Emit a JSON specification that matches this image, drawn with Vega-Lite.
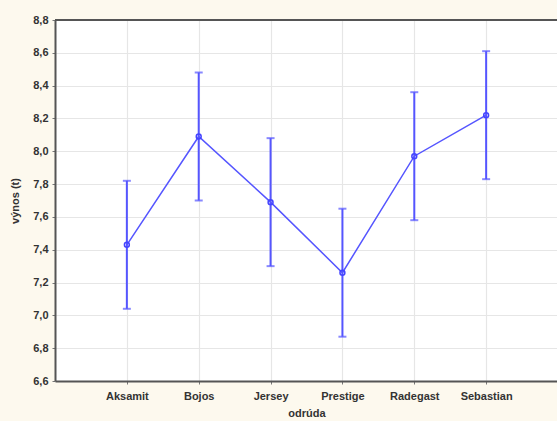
{
  "$schema": "https://vega.github.io/schema/vega-lite/v6.json",
  "autosize": "none",
  "padding": {"left": 55, "top": 20, "right": 0, "bottom": 40},
  "width": 503,
  "height": 361,
  "background": "#fdf9ee",
  "config": {
    "view": {"fill": "white", "stroke": null},
    "font": "Liberation Sans",
    "axis": {
      "labelFont": "Liberation Sans",
      "titleFont": "Liberation Sans",
      "labelFontWeight": "bold",
      "titleFontWeight": "bold",
      "labelColor": "#333333",
      "titleColor": "#333333",
      "labelFontSize": 11,
      "titleFontSize": 11,
      "domainColor": "#555555",
      "domainWidth": 2,
      "tickColor": "#777777",
      "tickSize": 3,
      "gridColor": "#e6e6e6",
      "gridWidth": 1.2
    }
  },
  "data": {
    "values": [
      {"odruda": "Aksamit", "mean": 7.43, "lower": 7.04, "upper": 7.82},
      {"odruda": "Bojos", "mean": 8.09, "lower": 7.70, "upper": 8.48},
      {"odruda": "Jersey", "mean": 7.69, "lower": 7.30, "upper": 8.08},
      {"odruda": "Prestige", "mean": 7.26, "lower": 6.87, "upper": 7.65},
      {"odruda": "Radegast", "mean": 7.97, "lower": 7.58, "upper": 8.36},
      {"odruda": "Sebastian", "mean": 8.22, "lower": 7.83, "upper": 8.61}
    ]
  },
  "layer": [
    {
      "mark": {"type": "rule", "strokeWidth": 2, "color": "#5555ff"},
      "encoding": {
        "x": {"field": "odruda", "type": "nominal", "sort": null, "scale": {"type": "point", "padding": 1},
          "axis": {"title": "odrúda", "labelAngle": 0, "labelPadding": 6, "titlePadding": 6, "grid": true}},
        "y": {"field": "lower", "type": "quantitative", "scale": {"domain": [6.6, 8.8], "nice": false, "zero": false},
          "axis": {"title": "výnos (t)", "values": [6.6, 6.8, 7.0, 7.2, 7.4, 7.6, 7.8, 8.0, 8.2, 8.4, 8.6, 8.8], "labelExpr": "replace(format(datum.value, '.1f'), '.', ',')", "labelOverlap": false, "titlePadding": 12, "labelPadding": 4}},
        "y2": {"field": "upper"}
      }
    },
    {
      "mark": {"type": "tick", "size": 8, "thickness": 2, "color": "#5555ff"},
      "encoding": {
        "x": {"field": "odruda", "type": "nominal", "sort": null, "scale": {"type": "point", "padding": 1},
          "axis": {"title": "odrúda", "labelAngle": 0, "labelPadding": 6, "titlePadding": 6, "grid": true}},
        "y": {"field": "lower", "type": "quantitative", "scale": {"domain": [6.6, 8.8], "nice": false, "zero": false},
          "axis": {"title": "výnos (t)", "values": [6.6, 6.8, 7.0, 7.2, 7.4, 7.6, 7.8, 8.0, 8.2, 8.4, 8.6, 8.8], "labelExpr": "replace(format(datum.value, '.1f'), '.', ',')", "labelOverlap": false, "titlePadding": 12, "labelPadding": 4}}
      }
    },
    {
      "mark": {"type": "tick", "size": 8, "thickness": 2, "color": "#5555ff"},
      "encoding": {
        "x": {"field": "odruda", "type": "nominal", "sort": null, "scale": {"type": "point", "padding": 1},
          "axis": {"title": "odrúda", "labelAngle": 0, "labelPadding": 6, "titlePadding": 6, "grid": true}},
        "y": {"field": "upper", "type": "quantitative", "scale": {"domain": [6.6, 8.8], "nice": false, "zero": false},
          "axis": {"title": "výnos (t)", "values": [6.6, 6.8, 7.0, 7.2, 7.4, 7.6, 7.8, 8.0, 8.2, 8.4, 8.6, 8.8], "labelExpr": "replace(format(datum.value, '.1f'), '.', ',')", "labelOverlap": false, "titlePadding": 12, "labelPadding": 4}}
      }
    },
    {
      "mark": {"type": "line", "strokeWidth": 1.5, "color": "#5555ff"},
      "encoding": {
        "x": {"field": "odruda", "type": "nominal", "sort": null, "scale": {"type": "point", "padding": 1},
          "axis": {"title": "odrúda", "labelAngle": 0, "labelPadding": 6, "titlePadding": 6, "grid": true}},
        "y": {"field": "mean", "type": "quantitative", "scale": {"domain": [6.6, 8.8], "nice": false, "zero": false},
          "axis": {"title": "výnos (t)", "values": [6.6, 6.8, 7.0, 7.2, 7.4, 7.6, 7.8, 8.0, 8.2, 8.4, 8.6, 8.8], "labelExpr": "replace(format(datum.value, '.1f'), '.', ',')", "labelOverlap": false, "titlePadding": 12, "labelPadding": 4}}
      }
    },
    {
      "mark": {"type": "point", "shape": "circle", "filled": false, "size": 24, "strokeWidth": 1.5, "color": "#4444ff", "opacity": 1},
      "encoding": {
        "x": {"field": "odruda", "type": "nominal", "sort": null, "scale": {"type": "point", "padding": 1},
          "axis": {"title": "odrúda", "labelAngle": 0, "labelPadding": 6, "titlePadding": 6, "grid": true}},
        "y": {"field": "mean", "type": "quantitative", "scale": {"domain": [6.6, 8.8], "nice": false, "zero": false},
          "axis": {"title": "výnos (t)", "values": [6.6, 6.8, 7.0, 7.2, 7.4, 7.6, 7.8, 8.0, 8.2, 8.4, 8.6, 8.8], "labelExpr": "replace(format(datum.value, '.1f'), '.', ',')", "labelOverlap": false, "titlePadding": 12, "labelPadding": 4}}
      }
    },
    {
      "mark": {"type": "rule", "color": "#555555", "strokeWidth": 2},
      "encoding": {
        "y": {"datum": 8.8, "type": "quantitative", "scale": {"domain": [6.6, 8.8], "nice": false, "zero": false},
          "axis": {"title": "výnos (t)", "values": [6.6, 6.8, 7.0, 7.2, 7.4, 7.6, 7.8, 8.0, 8.2, 8.4, 8.6, 8.8], "labelExpr": "replace(format(datum.value, '.1f'), '.', ',')", "labelOverlap": false, "titlePadding": 12, "labelPadding": 4}}
      }
    }
  ]
}
